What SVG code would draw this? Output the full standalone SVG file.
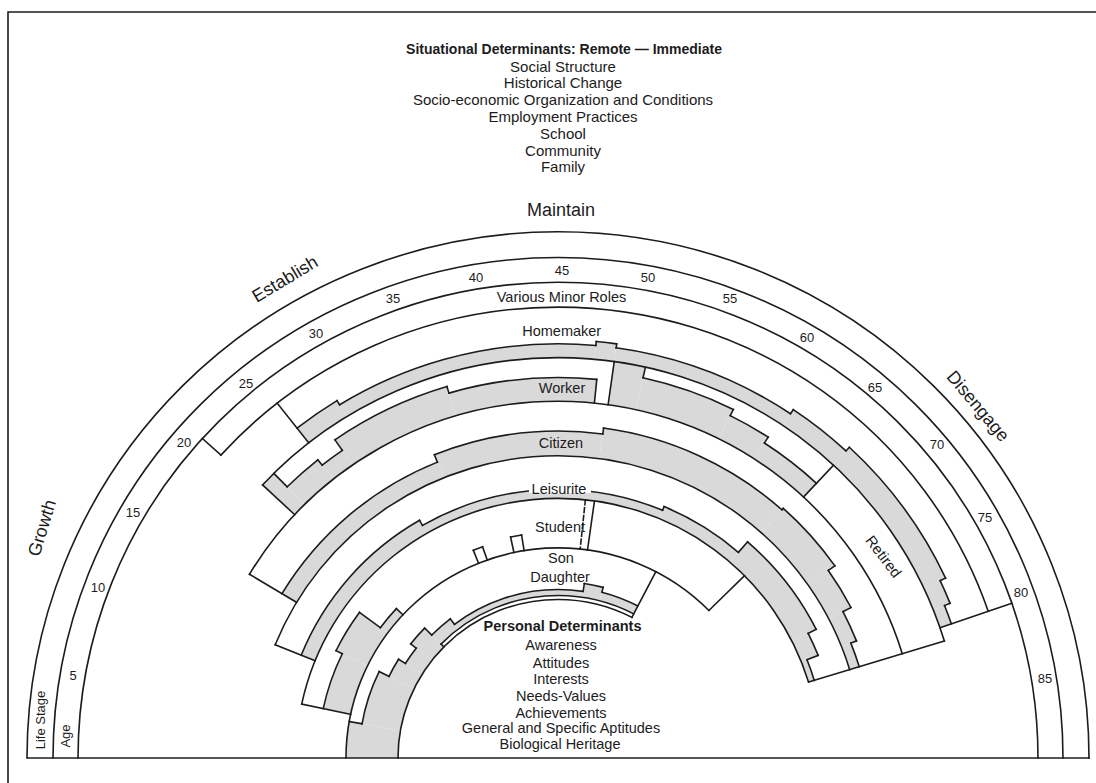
<svg xmlns="http://www.w3.org/2000/svg" width="1096" height="783" viewBox="0 0 1096 783">
<style>
.a{fill:none;stroke:#1c1c1c;stroke-width:1.6;stroke-linecap:square}
.s{fill:none;stroke:#d9d9d9}
text{font-family:"Liberation Sans",Arial,sans-serif;fill:#1c1c1c;text-anchor:middle}
.t{font-size:15px}
.ag{font-size:13px}
.rl{font-size:14.5px}
.st{font-size:18px}
</style>
<rect width="1096" height="783" fill="#fff"/>
<path d="M8 783V12H1096" fill="none" stroke="#1c1c1c" stroke-width="1.6"/>
<g id="situational">
<text x="564" y="53.5" style="font-size:14px;font-weight:bold">Situational Determinants: Remote — Immediate</text>
<text class="t" x="563" y="71.5">Social Structure</text>
<text class="t" x="563" y="88.3">Historical Change</text>
<text class="t" x="563" y="105.1">Socio-economic Organization and Conditions</text>
<text class="t" x="563" y="121.9">Employment Practices</text>
<text class="t" x="563" y="138.7">School</text>
<text class="t" x="563" y="155.5">Community</text>
<text class="t" x="563" y="172.3">Family</text>
</g>
<g id="rainbow" transform="translate(558 758) scale(1 .991) rotate(180)">
<g id="shading" class="s">
<circle pathLength="360" r="413.5" stroke-width="19" stroke-dasharray="6.6 720" stroke-dashoffset="-51.9"/>
<circle pathLength="360" r="411" stroke-width="14" stroke-dasharray="36.7 720" stroke-dashoffset="-58.5"/>
<circle pathLength="360" r="413" stroke-width="18" stroke-dasharray="2.8 720" stroke-dashoffset="-95.2"/>
<circle pathLength="360" r="411" stroke-width="14" stroke-dasharray="25.8 720" stroke-dashoffset="-98"/>
<circle pathLength="360" r="413.5" stroke-width="19" stroke-dasharray="9.1 720" stroke-dashoffset="-123.8"/>
<circle pathLength="360" r="416" stroke-width="24" stroke-dasharray="22 720" stroke-dashoffset="-132.9"/>
<circle pathLength="360" r="413" stroke-width="18" stroke-dasharray="3.4 720" stroke-dashoffset="-154.9"/>
<circle pathLength="360" r="410" stroke-width="12" stroke-dasharray="2.7 720" stroke-dashoffset="-158.3"/>
<circle pathLength="360" r="382" stroke-width="44" stroke-dasharray="2.3 720" stroke-dashoffset="-43"/>
<circle pathLength="360" r="372.5" stroke-width="25" stroke-dasharray="6.1 720" stroke-dashoffset="-45.3"/>
<circle pathLength="360" r="369" stroke-width="18" stroke-dasharray="3.8 720" stroke-dashoffset="-51.4"/>
<circle pathLength="360" r="375.5" stroke-width="31" stroke-dasharray="18.3 720" stroke-dashoffset="-55.2"/>
<circle pathLength="360" r="372" stroke-width="24" stroke-dasharray="22.3 720" stroke-dashoffset="-73.5"/>
<circle pathLength="360" r="382" stroke-width="44" stroke-dasharray="4.5 720" stroke-dashoffset="-98"/>
<circle pathLength="360" r="376.5" stroke-width="33" stroke-dasharray="14 720" stroke-dashoffset="-102.5"/>
<circle pathLength="360" r="373" stroke-width="26" stroke-dasharray="6.5 720" stroke-dashoffset="-116.5"/>
<circle pathLength="360" r="369.5" stroke-width="19" stroke-dasharray="10 720" stroke-dashoffset="-123"/>
<circle pathLength="360" r="313.5" stroke-width="17" stroke-dasharray="37 720" stroke-dashoffset="-31"/>
<circle pathLength="360" r="317.5" stroke-width="25" stroke-dasharray="29.8 720" stroke-dashoffset="-68"/>
<circle pathLength="360" r="320.5" stroke-width="31" stroke-dasharray="34 720" stroke-dashoffset="-97.8"/>
<circle pathLength="360" r="321.5" stroke-width="33" stroke-dasharray="13.2 720" stroke-dashoffset="-131.8"/>
<circle pathLength="360" r="317.5" stroke-width="25" stroke-dasharray="7.6 720" stroke-dashoffset="-145"/>
<circle pathLength="360" r="313" stroke-width="16" stroke-dasharray="5.8 720" stroke-dashoffset="-152.6"/>
<circle pathLength="360" r="310" stroke-width="10" stroke-dasharray="4.6 720" stroke-dashoffset="-158.4"/>
<circle pathLength="360" r="269.5" stroke-width="15" stroke-dasharray="38 720" stroke-dashoffset="-22"/>
<circle pathLength="360" r="266.5" stroke-width="9" stroke-dasharray="52.7 720" stroke-dashoffset="-60"/>
<circle pathLength="360" r="268.5" stroke-width="13" stroke-dasharray="18.3 720" stroke-dashoffset="-112.7"/>
<circle pathLength="360" r="275.5" stroke-width="27" stroke-dasharray="22.3 720" stroke-dashoffset="-131"/>
<circle pathLength="360" r="271" stroke-width="18" stroke-dasharray="5 720" stroke-dashoffset="-153.3"/>
<circle pathLength="360" r="265" stroke-width="6" stroke-dasharray="4.7 720" stroke-dashoffset="-158.3"/>
<circle pathLength="360" r="226" stroke-width="28" stroke-dasharray="14 720" stroke-dashoffset="-12"/>
<circle pathLength="360" r="229.5" stroke-width="35" stroke-dasharray="10.5 720" stroke-dashoffset="-26"/>
<circle pathLength="360" r="216.5" stroke-width="9" stroke-dasharray="6.5 720" stroke-dashoffset="-36.5"/>
<circle pathLength="360" r="186" stroke-width="52" stroke-dasharray="10 720" stroke-dashoffset="0"/>
<circle pathLength="360" r="179.5" stroke-width="39" stroke-dasharray="16 720" stroke-dashoffset="-10"/>
<circle pathLength="360" r="174" stroke-width="28" stroke-dasharray="6 720" stroke-dashoffset="-26"/>
<circle pathLength="360" r="170" stroke-width="20" stroke-dasharray="6 720" stroke-dashoffset="-32"/>
<circle pathLength="360" r="173.5" stroke-width="27" stroke-dasharray="6.5 720" stroke-dashoffset="-38"/>
<circle pathLength="360" r="170.5" stroke-width="13" stroke-dasharray="8 720" stroke-dashoffset="-44.5"/>
<circle pathLength="360" r="167" stroke-width="6" stroke-dasharray="46 720" stroke-dashoffset="-52.5"/>
<circle pathLength="360" r="171" stroke-width="14" stroke-dasharray="6.2 720" stroke-dashoffset="-98.5"/>
<circle pathLength="360" r="168.5" stroke-width="9" stroke-dasharray="12.8 720" stroke-dashoffset="-104.7"/>
</g>
<g id="bands" class="a">
<circle pathLength="360" r="531" stroke-dasharray="180 720"/>
<circle pathLength="360" r="505" stroke-dasharray="180 720"/>
<circle pathLength="360" r="480" stroke-dasharray="180 720"/>
<circle pathLength="360" r="455" stroke-dasharray="118.8 720" stroke-dashoffset="-42.2"/>
<circle pathLength="360" r="404" stroke-dasharray="120 720" stroke-dashoffset="-43"/>
<circle pathLength="360" r="360" stroke-dasharray="132 720" stroke-dashoffset="-31"/>
<circle pathLength="360" r="305" stroke-dasharray="141 720" stroke-dashoffset="-22"/>
<circle pathLength="360" r="262" stroke-dasharray="151 720" stroke-dashoffset="-12"/>
<circle pathLength="360" r="212" stroke-dasharray="135.4 720"/>
<circle pathLength="360" r="160" stroke-dasharray="117.5 720"/>
<circle pathLength="360" r="164" stroke-dasharray="73 720" stroke-dashoffset="-44.5"/>
<line x1="480" x2="455" transform="rotate(42.2)"/>
<line x1="480" x2="404" transform="rotate(161)"/>
<line x1="455" x2="404" transform="rotate(51.9)"/>
<line x1="404" x2="360" transform="rotate(43)"/>
<line x1="404" x2="360" transform="rotate(98)"/>
<line x1="404" x2="360" transform="rotate(133)"/>
<line x1="404" x2="262" transform="rotate(163)"/>
<line x1="360" x2="305" transform="rotate(31)"/>
<line x1="305" x2="262" transform="rotate(22)"/>
<line x1="262" x2="212" transform="rotate(12)"/>
<line x1="262" x2="212" transform="rotate(98)"/>
<line x1="262" x2="212" transform="rotate(135.4)"/>
<line x1="212" x2="160" transform="rotate(117.5)"/>
<line x1="160" x2="164" transform="rotate(44.5)"/>
<line x1="262" x2="212" transform="rotate(96)" stroke-dasharray="5 3"/>
<line x1="212" x2="226" transform="rotate(68)"/>
<circle pathLength="360" r="226" stroke-dasharray="2.5 720" stroke-dashoffset="-68"/>
<line x1="212" x2="226" transform="rotate(70.5)"/>
<line x1="212" x2="228" transform="rotate(78)"/>
<circle pathLength="360" r="228" stroke-dasharray="2.8 720" stroke-dashoffset="-78"/>
<line x1="212" x2="228" transform="rotate(80.8)"/>
</g>
<g id="steps" class="a">
<circle pathLength="360" r="423" stroke-dasharray="6.6 720" stroke-dashoffset="-51.9"/>
<circle pathLength="360" r="418" stroke-dasharray="36.7 720" stroke-dashoffset="-58.5"/>
<circle pathLength="360" r="422" stroke-dasharray="2.8 720" stroke-dashoffset="-95.2"/>
<circle pathLength="360" r="418" stroke-dasharray="25.8 720" stroke-dashoffset="-98"/>
<circle pathLength="360" r="423" stroke-dasharray="9.1 720" stroke-dashoffset="-123.8"/>
<circle pathLength="360" r="428" stroke-dasharray="22 720" stroke-dashoffset="-132.9"/>
<circle pathLength="360" r="422" stroke-dasharray="3.4 720" stroke-dashoffset="-154.9"/>
<circle pathLength="360" r="416" stroke-dasharray="2.7 720" stroke-dashoffset="-158.3"/>
<line x1="423" x2="418" transform="rotate(58.5)"/>
<line x1="418" x2="422" transform="rotate(95.2)"/>
<line x1="422" x2="418" transform="rotate(98)"/>
<line x1="418" x2="423" transform="rotate(123.8)"/>
<line x1="423" x2="428" transform="rotate(132.9)"/>
<line x1="428" x2="422" transform="rotate(154.9)"/>
<line x1="422" x2="416" transform="rotate(158.3)"/>
<circle pathLength="360" r="385" stroke-dasharray="6.1 720" stroke-dashoffset="-45.3"/>
<circle pathLength="360" r="378" stroke-dasharray="3.8 720" stroke-dashoffset="-51.4"/>
<circle pathLength="360" r="391" stroke-dasharray="18.3 720" stroke-dashoffset="-55.2"/>
<circle pathLength="360" r="384" stroke-dasharray="22.3 720" stroke-dashoffset="-73.5"/>
<circle pathLength="360" r="393" stroke-dasharray="14 720" stroke-dashoffset="-102.5"/>
<circle pathLength="360" r="386" stroke-dasharray="6.5 720" stroke-dashoffset="-116.5"/>
<circle pathLength="360" r="379" stroke-dasharray="10 720" stroke-dashoffset="-123"/>
<line x1="404" x2="385" transform="rotate(45.3)"/>
<line x1="385" x2="378" transform="rotate(51.4)"/>
<line x1="378" x2="391" transform="rotate(55.2)"/>
<line x1="391" x2="384" transform="rotate(73.5)"/>
<line x1="384" x2="360" transform="rotate(95.8)"/>
<line x1="404" x2="393" transform="rotate(102.5)"/>
<line x1="393" x2="386" transform="rotate(116.5)"/>
<line x1="386" x2="379" transform="rotate(123)"/>
<circle pathLength="360" r="322" stroke-dasharray="37 720" stroke-dashoffset="-31"/>
<circle pathLength="360" r="330" stroke-dasharray="29.8 720" stroke-dashoffset="-68"/>
<circle pathLength="360" r="336" stroke-dasharray="34 720" stroke-dashoffset="-97.8"/>
<circle pathLength="360" r="338" stroke-dasharray="13.2 720" stroke-dashoffset="-131.8"/>
<circle pathLength="360" r="330" stroke-dasharray="7.6 720" stroke-dashoffset="-145"/>
<circle pathLength="360" r="321" stroke-dasharray="5.8 720" stroke-dashoffset="-152.6"/>
<circle pathLength="360" r="315" stroke-dasharray="4.6 720" stroke-dashoffset="-158.4"/>
<line x1="322" x2="330" transform="rotate(68)"/>
<line x1="330" x2="336" transform="rotate(97.8)"/>
<line x1="336" x2="338" transform="rotate(131.8)"/>
<line x1="338" x2="330" transform="rotate(145)"/>
<line x1="330" x2="321" transform="rotate(152.6)"/>
<line x1="321" x2="315" transform="rotate(158.4)"/>
<circle pathLength="360" r="277" stroke-dasharray="38 720" stroke-dashoffset="-22"/>
<circle pathLength="360" r="271" stroke-dasharray="52.7 720" stroke-dashoffset="-60"/>
<circle pathLength="360" r="275" stroke-dasharray="18.3 720" stroke-dashoffset="-112.7"/>
<circle pathLength="360" r="289" stroke-dasharray="22.3 720" stroke-dashoffset="-131"/>
<circle pathLength="360" r="280" stroke-dasharray="5 720" stroke-dashoffset="-153.3"/>
<circle pathLength="360" r="268" stroke-dasharray="4.7 720" stroke-dashoffset="-158.3"/>
<line x1="277" x2="271" transform="rotate(60)"/>
<line x1="271" x2="275" transform="rotate(112.7)"/>
<line x1="275" x2="289" transform="rotate(131)"/>
<line x1="289" x2="280" transform="rotate(153.3)"/>
<line x1="280" x2="268" transform="rotate(158.3)"/>
<circle pathLength="360" r="240" stroke-dasharray="14 720" stroke-dashoffset="-12"/>
<circle pathLength="360" r="247" stroke-dasharray="10.5 720" stroke-dashoffset="-26"/>
<circle pathLength="360" r="221" stroke-dasharray="6.5 720" stroke-dashoffset="-36.5"/>
<line x1="240" x2="247" transform="rotate(26)"/>
<line x1="247" x2="221" transform="rotate(36.5)"/>
<line x1="221" x2="212" transform="rotate(43)"/>
<circle pathLength="360" r="199" stroke-dasharray="16 720" stroke-dashoffset="-10"/>
<circle pathLength="360" r="188" stroke-dasharray="6 720" stroke-dashoffset="-26"/>
<circle pathLength="360" r="180" stroke-dasharray="6 720" stroke-dashoffset="-32"/>
<circle pathLength="360" r="187" stroke-dasharray="6.5 720" stroke-dashoffset="-38"/>
<circle pathLength="360" r="177" stroke-dasharray="8 720" stroke-dashoffset="-44.5"/>
<circle pathLength="360" r="170" stroke-dasharray="46 720" stroke-dashoffset="-52.5"/>
<circle pathLength="360" r="178" stroke-dasharray="6.2 720" stroke-dashoffset="-98.5"/>
<circle pathLength="360" r="173" stroke-dasharray="12.8 720" stroke-dashoffset="-104.7"/>
<line x1="212" x2="199" transform="rotate(10)"/>
<line x1="199" x2="188" transform="rotate(26)"/>
<line x1="188" x2="180" transform="rotate(32)"/>
<line x1="180" x2="187" transform="rotate(38)"/>
<line x1="187" x2="177" transform="rotate(44.5)"/>
<line x1="177" x2="170" transform="rotate(52.5)"/>
<line x1="170" x2="178" transform="rotate(98.5)"/>
<line x1="178" x2="173" transform="rotate(104.7)"/>
</g>
</g>
<line id="baseline" x1="27" y1="758" x2="1090" y2="758" stroke="#1c1c1c" stroke-width="1.6"/>
<g id="stages" class="st">
<text x="561" y="216">Maintain</text>
<text x="285" y="285" transform="rotate(-31 285 279)">Establish</text>
<text x="42" y="534" transform="rotate(-73 42 528)">Growth</text>
<text x="978" y="412" transform="rotate(50 978 406)">Disengage</text>
</g>
<g id="ages" class="ag">
<text x="40" y="725" transform="rotate(-90 40 720)">Life Stage</text>
<text x="66" y="740" transform="rotate(-90 66 736)">Age</text>
<text x="73" y="679.5">5</text>
<text x="98" y="591.5">10</text>
<text x="133" y="516.5">15</text>
<text x="184" y="446.5">20</text>
<text x="246" y="387.5">25</text>
<text x="316" y="337.5">30</text>
<text x="393" y="302.5">35</text>
<text x="476" y="281.5">40</text>
<text x="562" y="274.5">45</text>
<text x="648" y="281.5">50</text>
<text x="730" y="302.5">55</text>
<text x="807" y="341.5">60</text>
<text x="875" y="391.5">65</text>
<text x="937" y="448.5">70</text>
<text x="985" y="521.5">75</text>
<text x="1021" y="596.5">80</text>
<text x="1045" y="682.5">85</text>
</g>
<g id="roles" class="rl">
<text x="561.5" y="301.5">Various Minor Roles</text>
<text x="561.7" y="336">Homemaker</text>
<text x="562" y="392.5">Worker</text>
<text x="561" y="448">Citizen</text>
<rect x="529" y="482" width="62" height="11" fill="#fff"/>
<text x="559" y="494">Leisurite</text>
<text x="560" y="532">Student</text>
<text x="561" y="562.5">Son</text>
<text x="560" y="582">Daughter</text>
<text x="883" y="561.5" transform="rotate(53 883 557)" style="font-size:15px">Retired</text>
</g>
<g id="personal" class="rl">
<text x="562.5" y="631" style="font-weight:bold">Personal Determinants</text>
<text x="561" y="650">Awareness</text>
<text x="561" y="667.5">Attitudes</text>
<text x="561" y="684">Interests</text>
<text x="561" y="701">Needs-Values</text>
<text x="561" y="717.5">Achievements</text>
<text x="561" y="733">General and Specific Aptitudes</text>
<text x="560" y="749">Biological Heritage</text>
</g>
</svg>
